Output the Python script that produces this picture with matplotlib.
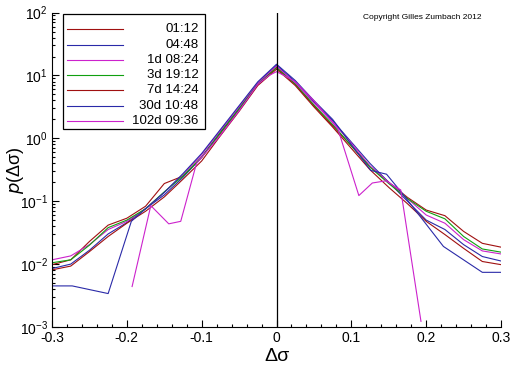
import matplotlib
matplotlib.use("Agg")
import matplotlib.pyplot as plt
from matplotlib.patches import Rectangle
from matplotlib.ticker import MultipleLocator, FuncFormatter

plt.rcParams["font.family"] = ["Liberation Sans", "DejaVu Sans"]
plt.rcParams["axes.unicode_minus"] = False
plt.rcParams["mathtext.default"] = "regular"

# common bin centres of the smooth curves
x_grid = [-0.3, -0.275, -0.25, -0.225, -0.2, -0.175, -0.15, -0.125, -0.1,
          -0.075, -0.05, -0.025, 0.0, 0.025, 0.05, 0.075, 0.1, 0.125, 0.15,
          0.175, 0.2, 0.225, 0.25, 0.275, 0.3]

p_0112 = [0.0098, 0.0117, 0.0229, 0.0417, 0.0537, 0.0832, 0.191, 0.251, 0.501,
          1.20, 2.88, 7.24, 13.5, 7.24, 3.31, 1.58, 0.759, 0.355, 0.200,
          0.115, 0.0724, 0.0589, 0.0331, 0.0214, 0.0186]
p_0448 = [0.0085, 0.0100, 0.0166, 0.0302, 0.0457, 0.0759, 0.126, 0.240, 0.501,
          1.26, 3.02, 7.59, 14.5, 7.94, 3.80, 1.91, 0.871, 0.398, 0.200,
          0.100, 0.0501, 0.0355, 0.0204, 0.0132, 0.0112]
p_1d = [0.0117, 0.0135, 0.0204, 0.0355, 0.0479, 0.0759, 0.138, 0.263, 0.550,
        1.32, 3.16, 7.59, 14.1, 7.59, 3.63, 1.82, 0.832, 0.363, 0.200,
        0.110, 0.0603, 0.0447, 0.0245, 0.0162, 0.0145]
p_3d = [0.0105, 0.0117, 0.0200, 0.0380, 0.0501, 0.0759, 0.141, 0.251, 0.501,
        1.23, 2.95, 7.24, 13.2, 7.24, 3.39, 1.66, 0.759, 0.347, 0.191,
        0.110, 0.0692, 0.0525, 0.0275, 0.0174, 0.0155]
p_7d = [0.0081, 0.0093, 0.0158, 0.0275, 0.0447, 0.0692, 0.117, 0.224, 0.437,
        1.10, 2.69, 6.92, 12.6, 6.92, 3.16, 1.51, 0.692, 0.316, 0.166,
        0.0912, 0.0479, 0.0295, 0.0178, 0.0110, 0.0098]

# long horizons: fewer data, own bins
x_30d = [-0.3, -0.273, -0.225, -0.194, -0.175, -0.15, -0.125, -0.1, -0.075,
         -0.05, -0.025, 0.0, 0.025, 0.05, 0.075, 0.11, 0.126, 0.147, 0.167,
         0.223, 0.275, 0.3]
p_30d = [0.0045, 0.0045, 0.0034, 0.0479, 0.0759, 0.138, 0.275, 0.575, 1.38,
         3.31, 7.94, 15.1, 8.32, 3.98, 2.00, 0.550, 0.309, 0.269, 0.138,
         0.0191, 0.0074, 0.0074]
x_102d = [-0.193, -0.168, -0.144, -0.128, -0.107, -0.075, -0.05, -0.025,
          -0.01, 0.0, 0.01, 0.025, 0.05, 0.082, 0.11, 0.128, 0.146, 0.166,
          0.193]
p_102d = [0.0044, 0.0851, 0.0437, 0.0479, 0.398, 1.12, 2.75, 7.24, 10.0,
          11.5, 10.0, 7.94, 3.98, 1.41, 0.123, 0.195, 0.211, 0.151, 0.00123]

labels = ["01:12", "04:48", "1d 08:24", "3d 19:12", "7d 14:24",
          "30d 10:48", "102d 09:36"]
colors = ["#a01010", "#2a2aa8", "#cc22cc", "#10a010", "#a01010",
          "#2a2aa8", "#cc22cc"]

series = [(x_grid, p_0112), (x_grid, p_0448), (x_grid, p_1d), (x_grid, p_3d),
          (x_grid, p_7d), (x_30d, p_30d), (x_102d, p_102d)]

fig = plt.figure(figsize=(5.12, 3.66), dpi=100)
ax = fig.add_axes([0.1016, 0.1066, 0.877, 0.859])

for (xs, ps), c in zip(series, colors):
    ax.plot(xs, ps, color=c, lw=0.8)
ax.axvline(0, color="k", lw=0.9)

ax.set_yscale("log")
ax.set_xlim(-0.3, 0.3)
ax.set_ylim(1e-3, 1e2)
ax.spines["top"].set_visible(False)
ax.spines["right"].set_visible(False)
ax.xaxis.set_major_locator(MultipleLocator(0.1))
ax.xaxis.set_minor_locator(MultipleLocator(0.02))
ax.xaxis.set_major_formatter(FuncFormatter(lambda v, _: f"{round(v, 2):g}"))
ax.tick_params(which="both", direction="in", labelsize=10, pad=3)
ax.tick_params(which="major", length=5, width=0.8)
ax.tick_params(which="minor", length=2.5, width=0.8)
ax.set_xlabel("Δσ", fontsize=14, labelpad=2)
ax.set_ylabel(r"$\mathit{p}$(Δσ)", fontsize=13)
ax.yaxis.set_label_coords(-0.058, 0.5)

# legend box, text right aligned as in the original
ax.add_patch(Rectangle((0.025, 0.629), 0.316, 0.367, transform=ax.transAxes,
                       fill=True, facecolor="white", edgecolor="k", lw=0.9,
                       zorder=5))
for i, (lab, c) in enumerate(zip(labels, colors)):
    yy = 0.947 - i * 0.0487
    ax.plot([0.033, 0.159], [yy, yy], color=c, lw=0.8,
            transform=ax.transAxes, zorder=6)
    ax.text(0.326, yy, lab, ha="right", va="center", fontsize=9.5,
            transform=ax.transAxes, zorder=6)

fig.text(0.709, 0.951, "Copyright Gilles Zumbach 2012", fontsize=6,
         ha="left", va="center")

fig.savefig("out.png", dpi=100)
